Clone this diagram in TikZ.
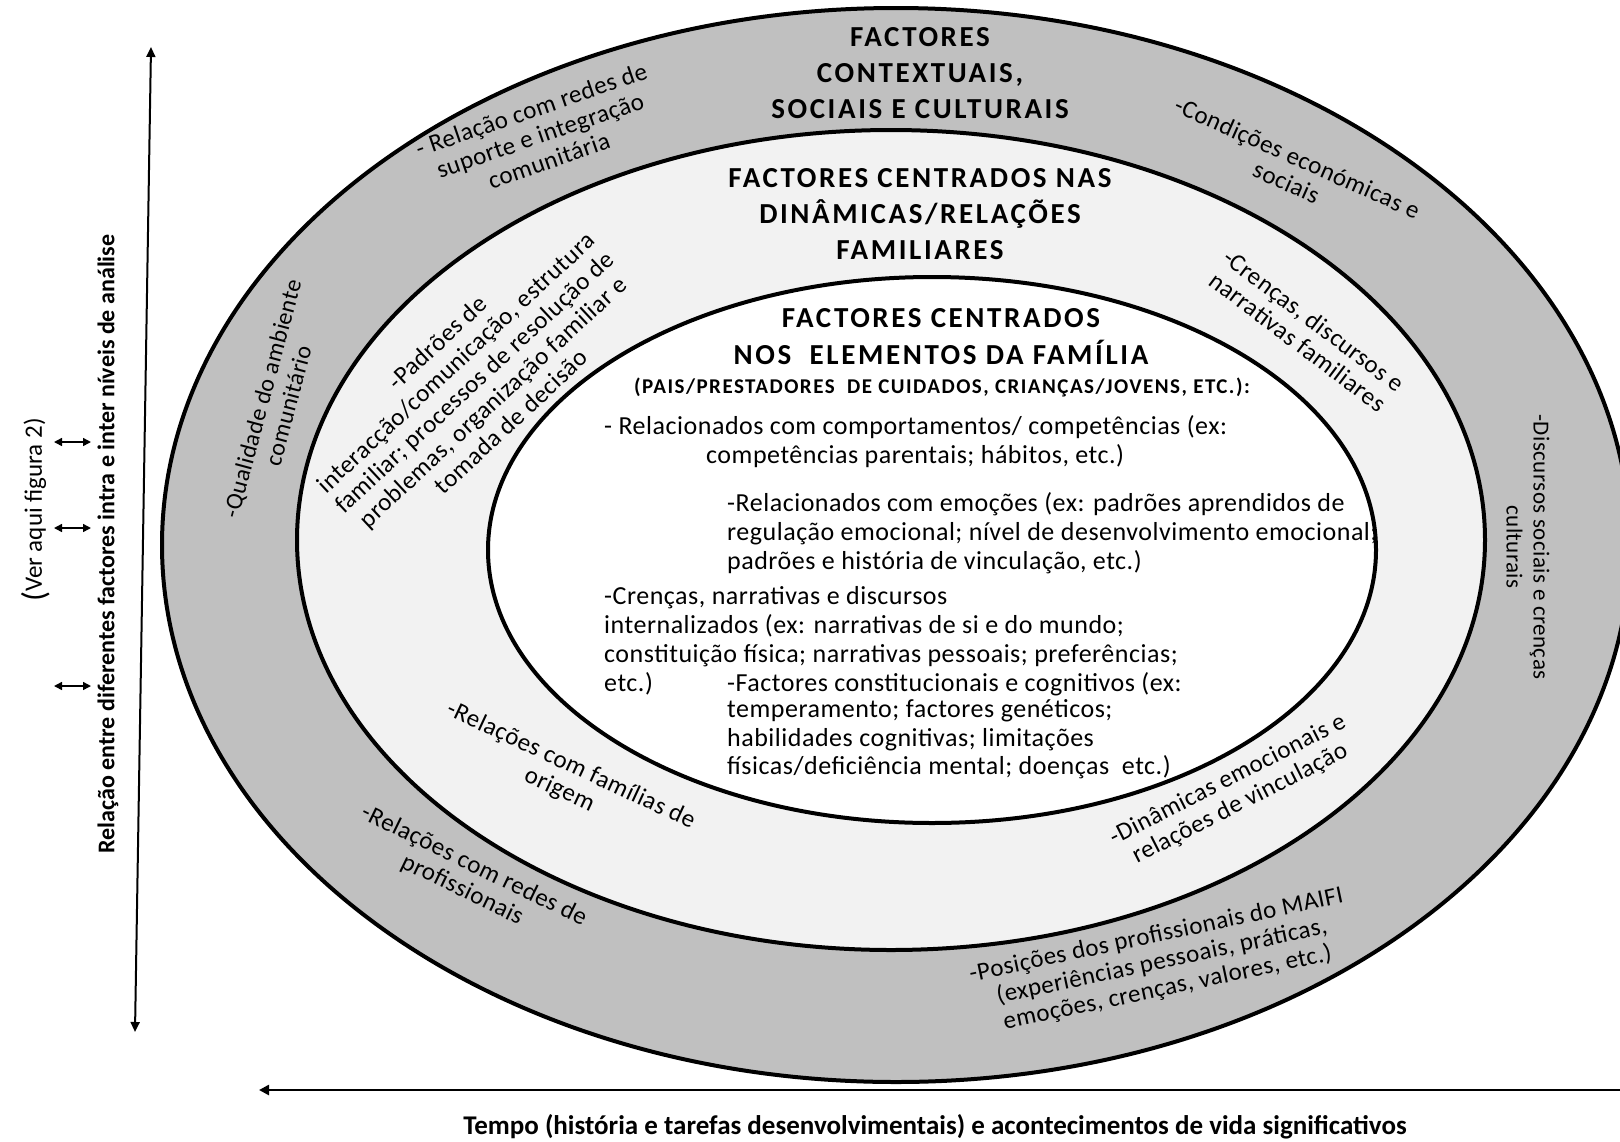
\documentclass[tikz,border=0pt]{standalone}
\usepackage{graphicx}
\usepackage{fontspec}
\setmainfont{Carlito}
\usetikzlibrary{arrows.meta}
\definecolor{ringouter}{HTML}{C0C0C0}
\definecolor{ringmiddle}{HTML}{F2F2F2}
\tikzset{
  ring/.style={draw=black, line width=4pt},
  head/.style={font=\bfseries\fontsize{29}{36}\selectfont\addfontfeatures{LetterSpace=9}, align=center, inner sep=0pt},
  subhead/.style={font=\bfseries\fontsize{21}{24}\selectfont\addfontfeatures{LetterSpace=7}, inner sep=0pt},
  body/.style={font=\fontsize{26}{29}\selectfont\addfontfeatures{LetterSpace=2}, anchor=base west, inner sep=0pt},
  bandtext/.style={font=\fontsize{25}{27}\selectfont\addfontfeatures{LetterSpace=2}, align=center, inner sep=0pt},
  axislabel/.style={font=\bfseries\fontsize{24}{26}\selectfont, inner sep=0pt},
  axisline/.style={line width=2pt, {Triangle[length=10pt,width=9pt]}-{Triangle[length=10pt,width=9pt]}},
  timeline/.style={line width=2.5pt, {Triangle[length=10pt,width=10pt]}-},
  twoway/.style={line width=1.5pt, {Triangle[length=8pt,width=8pt]}-{Triangle[length=8pt,width=8pt]}},
}
\begin{document}
\begin{tikzpicture}[x=1pt,y=-1pt]
\useasboundingbox (0,0) rectangle (1620,1141);

% three nested levels of analysis
\begin{scope}
  \clip (0,0) rectangle (1620,1141);
  \draw[ring, fill=ringouter] (896,545) ellipse [x radius=734, y radius=537];
  \draw[ring, fill=ringmiddle] (891,540) ellipse [x radius=594, y radius=410];
  \draw[ring, fill=white] (932,550) ellipse [x radius=444, y radius=273];
\end{scope}

% level titles
\node[head] (h1) at (920,73) {FACTORES\\CONTEXTUAIS,\\SOCIAIS E CULTURAIS};
\node[head] (h2) at (920,214) {FACTORES CENTRADOS NAS\\DINÂMICAS/RELAÇÕES\\FAMILIARES};
\node[head, font=\bfseries\fontsize{29}{37}\selectfont\addfontfeatures{LetterSpace=9}] (h3) at (941,337) {FACTORES CENTRADOS\\NOS\ \ ELEMENTOS DA FAMÍLIA};
\node[subhead] (h3s) at (942,387) {(PAIS/PRESTADORES\ \ DE CUIDADOS, CRIANÇAS/JOVENS, ETC.):};

% family members
\node[body] (b1) at (604,434) {- Relacionados com comportamentos/ competências (ex:};
\node[body] (b2) at (706,463) {competências parentais; hábitos, etc.)};
\node[body] (b3) at (727,511) {-Relacionados com emoções (ex: padrões aprendidos de};
\node[body] (b4) at (727,540) {regulação emocional; nível de desenvolvimento emocional;};
\node[body] (b5) at (727,569) {padrões e história de vinculação, etc.)};
\node[body] (b6) at (604,604) {-Crenças, narrativas e discursos};
\node[body] (b7) at (604,633) {internalizados (ex: narrativas de si e do mundo;};
\node[body] (b8) at (604,662) {constituição física; narrativas pessoais; preferências;};
\node[body] (b9) at (604,691) {etc.)};
\node[body] (b10) at (727,691) {-Factores constitucionais e cognitivos (ex:};
\node[body] (b11) at (727,717) {temperamento; factores genéticos;};
\node[body] (b12) at (727,746) {habilidades cognitivas; limitações};
\node[body] (b13) at (727,774) {físicas/deficiência mental; doenças\ \ etc.)};

% family dynamics band
\node[bandtext, rotate=43] (m1) at (474,382) {-Padrões de\\interacção/comunicação, estrutura\\familiar; processos de resolução de\\problemas, organização familiar e\\tomada de decisão};
\node[bandtext, rotate=-37] (m2) at (1306,331) {-Crenças, discursos e\\narrativas familiares};
\node[bandtext, rotate=-25] (m3) at (565,778) {-Relações com famílias de\\origem};
\node[bandtext, rotate=27] (m4) at (1234,792) {-Dinâmicas emocionais e\\relações de vinculação};

% contextual band
\node[bandtext, rotate=19] (o1) at (540,135) {- Relação com redes de\\suporte e integração\\comunitária};
\node[bandtext, rotate=-24] (o2) at (1292,170) {-Condições económicas e\\sociais};
\node[bandtext, font=\fontsize{23}{27}\selectfont\addfontfeatures{LetterSpace=2}, rotate=-90] (o3) at (1528,547) {-Discursos sociais e crenças\\culturais};
\node[bandtext, font=\fontsize{24}{27}\selectfont\addfontfeatures{LetterSpace=2}, rotate=75] (o4) at (275,402) {-Qualidade do ambiente\\comunitário};
\node[bandtext, rotate=-26] (o5) at (468,878) {-Relações com redes de\\profissionais};
\node[bandtext, rotate=12] (o6) at (1162,962) {-Posições dos profissionais do MAIFI\\(experiências pessoais, práticas,\\emoções, crenças, valores, etc.)};

% axes
\coordinate (vtop) at (151,47);
\coordinate (vbot) at (135,1032);
\draw[axisline] (vbot) -- (vtop);
\coordinate (tright) at (1620,1090);
\coordinate (tleft) at (259,1090);
\draw[timeline] (tleft) -- (tright);

\node[axislabel, rotate=90] (vlab) at (108,544) {Relação entre diferentes factores intra e inter níveis de análise};
\node[axislabel, font=\bfseries\fontsize{27}{29}\selectfont] (tlab) at (935,1127) {Tempo (história e tarefas desenvolvimentais) e acontecimentos de vida significativos};
\node[axislabel, font=\fontsize{25}{27}\selectfont, rotate=90] (fig) at (36,510) {\raisebox{-4pt}{\fontsize{33}{33}\selectfont(}Ver aqui figura 2)};

% links between levels
\coordinate (a1l) at (54,442); \coordinate (a1r) at (91,442);
\coordinate (a2l) at (54,528); \coordinate (a2r) at (91,528);
\coordinate (a3l) at (54,686); \coordinate (a3r) at (91,686);
\draw[twoway] (a1l) -- (a1r);
\draw[twoway] (a2l) -- (a2r);
\draw[twoway] (a3l) -- (a3r);
\end{tikzpicture}
\end{document}
